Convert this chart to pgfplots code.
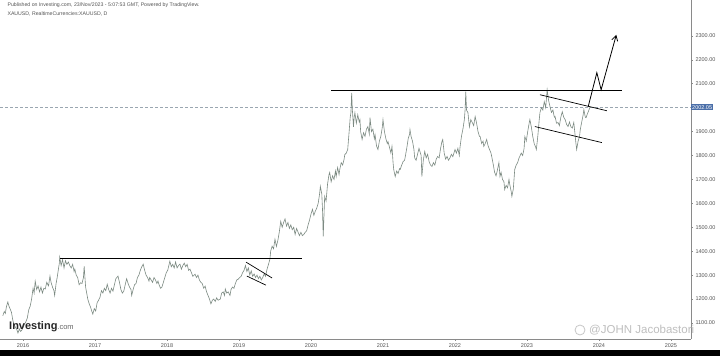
\documentclass[border=0pt]{standalone}
\usepackage{fontspec}
\setmainfont{Liberation Sans}
\usepackage{pgfplots}
\pgfplotsset{compat=1.18}
\usetikzlibrary{arrows.meta}
\definecolor{priceline}{HTML}{7C8A82}
\definecolor{axisgray}{HTML}{8A8A8A}
\definecolor{labgray}{HTML}{555555}
\definecolor{tagblue}{HTML}{4A6EA8}
\definecolor{dashcol}{HTML}{9AA6B0}
\begin{document}
\begin{tikzpicture}[x=1pt,y=1pt]
\useasboundingbox (0,-17) rectangle (720,339);
\fill[white] (0,-17) rectangle (720,339);
\fill[black] (0,-17) rectangle (720,-11);
\begin{axis}[
  at={(0,0)}, anchor=south west,
  scale only axis, width=691pt, height=339pt,
  xmin=2015.681, xmax=2025.278, ymin=1033, ymax=2450,
  axis x line*=bottom, axis y line*=right,
  axis line style={-, axisgray, line width=0.6pt},
  xtick={2016,2017,...,2025},
  ytick={1100,1200,1300,1400,1500,1600,1700,1800,1900,2100,2200,2300},
  extra y ticks={2000}, extra y tick labels={},
  x tick label style={/pgf/number format/.cd, 1000 sep={}, /tikz/.cd, yshift=1pt},
  y tick label style={/pgf/number format/.cd, fixed, fixed zerofill, precision=2, 1000 sep={}, /tikz/.cd, xshift=-1pt},
  /pgf/number format/assume math mode=true,
  tick label style={font=\fontsize{5.5}{6}\selectfont, text=labgray},
  tick align=outside, major tick length=2pt,
  tick style={axisgray, line width=0.5pt},
  clip=false,
]
% dashed current price line
\addplot[dashcol, densely dashed, line width=0.5pt] coordinates {(2015.681,2002.05) (2025.278,2002.05)};
% price series (XAUUSD, daily, approximated)
\addplot[priceline, line width=0.6pt] coordinates {
(2015.72,1130)(2015.74,1148)(2015.755,1140)(2015.77,1168)(2015.79,1188)(2015.80,1175)(2015.82,1160)(2015.84,1145)(2015.86,1110)(2015.88,1090)
(2015.90,1080)(2015.915,1072)(2015.93,1058)(2015.95,1075)(2015.965,1065)(2015.98,1068)(2016.00,1080)(2016.02,1095)(2016.04,1105)(2016.06,1120)
(2016.08,1155)(2016.10,1170)(2016.12,1200)(2016.14,1245)(2016.155,1225)(2016.17,1275)(2016.19,1240)(2016.21,1255)(2016.23,1230)(2016.25,1250)
(2016.27,1225)(2016.29,1245)(2016.31,1242)(2016.33,1270)(2016.355,1255)(2016.375,1296)(2016.39,1270)(2016.41,1250)(2016.43,1235)(2016.44,1215)
(2016.46,1265)(2016.475,1290)(2016.49,1320)(2016.505,1350)(2016.51,1375)(2016.53,1340)(2016.55,1365)(2016.57,1330)(2016.59,1360)(2016.61,1345)
(2016.63,1355)(2016.65,1340)(2016.67,1330)(2016.69,1345)(2016.71,1315)(2016.72,1325)(2016.74,1300)(2016.76,1290)(2016.78,1260)(2016.80,1268)
(2016.82,1265)(2016.84,1290)(2016.85,1337)(2016.87,1250)(2016.885,1225)(2016.90,1200)(2016.92,1180)(2016.94,1165)(2016.955,1150)(2016.97,1137)
(2016.99,1160)(2017.01,1150)(2017.03,1185)(2017.05,1195)(2017.07,1208)(2017.09,1235)(2017.11,1225)(2017.13,1245)(2017.15,1235)(2017.17,1262)
(2017.19,1240)(2017.21,1225)(2017.23,1245)(2017.25,1233)(2017.27,1260)(2017.29,1285)(2017.32,1296)(2017.34,1270)(2017.36,1240)(2017.38,1225)
(2017.40,1233)(2017.42,1260)(2017.44,1285)(2017.46,1265)(2017.48,1250)(2017.50,1240)(2017.51,1215)(2017.53,1240)(2017.55,1260)(2017.57,1265)
(2017.59,1290)(2017.61,1300)(2017.63,1320)(2017.65,1335)(2017.67,1346)(2017.69,1320)(2017.71,1300)(2017.73,1290)(2017.75,1275)(2017.76,1290)
(2017.78,1280)(2017.80,1270)(2017.82,1290)(2017.84,1280)(2017.86,1265)(2017.875,1275)(2017.89,1260)(2017.91,1245)(2017.93,1250)(2017.95,1270)
(2017.97,1290)(2017.99,1310)(2018.01,1320)(2018.04,1358)(2018.06,1335)(2018.08,1345)(2018.10,1330)(2018.12,1355)(2018.14,1330)(2018.16,1340)
(2018.18,1346)(2018.20,1325)(2018.22,1340)(2018.24,1350)(2018.26,1335)(2018.28,1345)(2018.30,1320)(2018.32,1325)(2018.34,1310)(2018.36,1295)
(2018.39,1304)(2018.41,1290)(2018.43,1300)(2018.45,1280)(2018.47,1270)(2018.49,1265)(2018.51,1245)(2018.53,1254)(2018.55,1230)(2018.57,1215)
(2018.59,1200)(2018.61,1180)(2018.63,1195)(2018.65,1200)(2018.67,1190)(2018.69,1205)(2018.71,1195)(2018.74,1200)(2018.76,1225)(2018.78,1230)
(2018.80,1215)(2018.81,1242)(2018.83,1225)(2018.85,1230)(2018.875,1215)(2018.89,1240)(2018.91,1250)(2018.93,1245)(2018.95,1265)(2018.97,1280)
(2018.99,1283)(2019.01,1290)(2019.03,1295)(2019.05,1310)(2019.07,1320)(2019.09,1340)(2019.11,1315)(2019.13,1330)(2019.15,1300)(2019.17,1318)
(2019.19,1295)(2019.21,1305)(2019.23,1290)(2019.25,1300)(2019.27,1285)(2019.29,1295)(2019.31,1280)(2019.33,1290)(2019.35,1305)(2019.37,1295)
(2019.39,1325)(2019.41,1345)(2019.43,1367)(2019.44,1400)(2019.46,1421)(2019.48,1410)(2019.50,1450)(2019.52,1420)(2019.54,1445)(2019.56,1480)
(2019.58,1525)(2019.60,1500)(2019.62,1520)(2019.64,1535)(2019.66,1505)(2019.68,1520)(2019.70,1495)(2019.72,1510)(2019.74,1490)(2019.76,1500)
(2019.78,1470)(2019.80,1495)(2019.82,1480)(2019.84,1465)(2019.86,1479)(2019.88,1465)(2019.90,1470)(2019.92,1479)(2019.94,1485)(2019.96,1510)
(2019.98,1530)(2020.00,1555)(2020.02,1575)(2020.04,1550)(2020.06,1567)(2020.08,1580)(2020.10,1600)(2020.12,1640)(2020.13,1671)(2020.15,1640)
(2020.16,1575)(2020.17,1462)(2020.18,1545)(2020.19,1629)(2020.21,1610)(2020.23,1680)(2020.25,1720)(2020.26,1729)(2020.28,1690)(2020.30,1715)
(2020.32,1700)(2020.34,1735)(2020.35,1712)(2020.37,1750)(2020.39,1720)(2020.40,1742)(2020.42,1770)(2020.44,1760)(2020.46,1785)(2020.47,1804)
(2020.49,1810)(2020.51,1825)(2020.53,1900)(2020.545,1960)(2020.555,1979)(2020.565,2062)(2020.575,1990)(2020.59,1920)(2020.60,1960)(2020.61,1979)
(2020.63,1935)(2020.65,1970)(2020.67,1940)(2020.68,1950)(2020.69,1900)(2020.71,1867)(2020.73,1895)(2020.75,1880)(2020.77,1910)(2020.79,1921)
(2020.81,1890)(2020.82,1958)(2020.84,1900)(2020.86,1910)(2020.88,1870)(2020.89,1887)(2020.91,1840)(2020.93,1825)(2020.95,1860)(2020.97,1880)
(2020.99,1917)(2021.00,1950)(2021.02,1900)(2021.04,1870)(2021.06,1850)(2021.07,1858)(2021.09,1835)(2021.11,1810)(2021.125,1838)(2021.14,1770)
(2021.15,1740)(2021.17,1712)(2021.19,1735)(2021.21,1725)(2021.23,1745)(2021.24,1742)(2021.26,1760)(2021.28,1775)(2021.30,1780)(2021.31,1796)
(2021.33,1830)(2021.35,1870)(2021.37,1890)(2021.375,1908)(2021.39,1880)(2021.41,1860)(2021.43,1825)(2021.44,1790)(2021.46,1780)(2021.48,1805)
(2021.50,1830)(2021.52,1810)(2021.53,1800)(2021.54,1712)(2021.56,1780)(2021.58,1817)(2021.60,1790)(2021.62,1805)(2021.64,1775)(2021.66,1760)
(2021.68,1754)(2021.70,1770)(2021.72,1760)(2021.74,1785)(2021.76,1796)(2021.78,1790)(2021.80,1830)(2021.82,1860)(2021.83,1867)(2021.85,1810)
(2021.87,1785)(2021.89,1796)(2021.91,1780)(2021.93,1790)(2021.95,1805)(2021.97,1795)(2022.00,1825)(2022.02,1810)(2022.04,1830)(2022.06,1800)
(2022.07,1835)(2022.09,1880)(2022.11,1910)(2022.13,1950)(2022.14,1990)(2022.15,2067)(2022.16,1990)(2022.18,1979)(2022.20,1920)(2022.22,1950)
(2022.24,1938)(2022.26,1925)(2022.28,1963)(2022.30,1935)(2022.32,1900)(2022.34,1880)(2022.35,1879)(2022.37,1850)(2022.39,1860)(2022.40,1838)
(2022.42,1850)(2022.44,1867)(2022.46,1840)(2022.48,1825)(2022.50,1810)(2022.51,1796)(2022.53,1765)(2022.55,1730)(2022.57,1715)(2022.59,1740)
(2022.61,1770)(2022.625,1712)(2022.64,1730)(2022.66,1700)(2022.68,1690)(2022.69,1658)(2022.71,1675)(2022.73,1665)(2022.75,1700)(2022.76,1680)
(2022.78,1650)(2022.79,1629)(2022.81,1660)(2022.83,1742)(2022.85,1760)(2022.87,1770)(2022.89,1790)(2022.90,1796)(2022.92,1810)(2022.94,1800)
(2022.96,1830)(2022.97,1879)(2022.99,1860)(2023.01,1900)(2023.03,1935)(2023.04,1950)(2023.06,1920)(2023.08,1880)(2023.10,1850)(2023.12,1835)
(2023.13,1825)(2023.15,1880)(2023.17,1950)(2023.18,1979)(2023.20,2000)(2023.22,1990)(2023.24,2025)(2023.26,2000)(2023.28,2075)(2023.30,2030)
(2023.32,2004)(2023.34,1980)(2023.36,1990)(2023.38,1960)(2023.39,1963)(2023.41,1935)(2023.43,1938)(2023.45,1925)(2023.47,1960)(2023.49,1983)
(2023.51,1960)(2023.53,1950)(2023.55,1930)(2023.57,1921)(2023.59,1940)(2023.61,1920)(2023.63,1915)(2023.65,1938)(2023.67,1880)(2023.68,1850)
(2023.69,1825)(2023.71,1860)(2023.73,1880)(2023.74,1908)(2023.76,1940)(2023.78,1970)(2023.79,1992)(2023.81,1960)(2023.82,1958)(2023.84,1975)
(2023.86,1990)(2023.875,2002.05)
};
% drawn annotations
\addplot[black, line width=0.7pt] coordinates {(2016.51,1370) (2019.875,1370)};
\addplot[black, line width=0.7pt] coordinates {(2019.10,1354) (2019.46,1288)};
\addplot[black, line width=0.7pt] coordinates {(2019.11,1296) (2019.375,1258)};
\addplot[black, line width=0.7pt] coordinates {(2020.28,2071) (2024.32,2071)};
\addplot[black, line width=0.7pt] coordinates {(2023.18,2054) (2024.11,1987)};
\addplot[black, line width=0.7pt] coordinates {(2023.11,1921) (2024.04,1854)};
\addplot[black, line width=0.8pt, -{Straight Barb[length=5pt,width=6pt]}] coordinates {(2023.85,2004) (2023.97,2146) (2024.03,2075) (2024.24,2304)};
% current price tag
\node[fill=tagblue, text=white, inner sep=1pt, anchor=west, font=\fontsize{5.5}{6}\selectfont] at (axis cs:2025.278,2002.05) {2002.05};
\end{axis}
% header
\node[anchor=west, font=\fontsize{5.2}{6}\selectfont, text=labgray] at (4,334) {Published on Investing.com, 23/Nov/2023 - 5:07:53 GMT, Powered by TradingView.};
\node[anchor=west, font=\fontsize{5.2}{6}\selectfont, text=labgray] at (4,325) {XAUUSD, RealtimeCurrencies:XAUUSD, D};
% logo
\node[anchor=west, inner sep=0pt, font=\fontsize{11}{12}\selectfont\bfseries, text=black!85] at (9,12) {Investing\fontsize{7.5}{8}\selectfont\mdseries\color{black!60}.com};
% watermark
\draw[black!22, line width=0.8pt] (580,9) circle (5);
\node[anchor=west, inner sep=0pt, font=\fontsize{11.5}{12}\selectfont, text=black!25] at (589,9) {@JOHN Jacobastori};
\end{tikzpicture}
\end{document}
